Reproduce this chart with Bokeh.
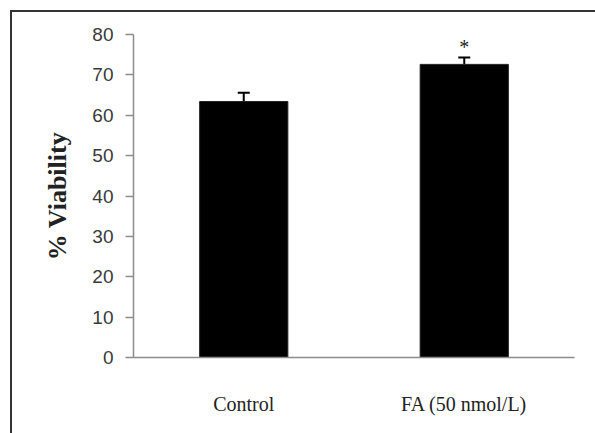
from bokeh.plotting import figure
from bokeh.models import ColumnDataSource, Range1d, Whisker, TeeHead, FactorRange
from bokeh.core.properties import value
from bokeh.embed import file_html
from bokeh.resources import INLINE

categories = ["Control", "FA (50 nmol/L)"]
viability = [63.4, 72.6]
errors = [2.2, 1.7]
significance = ["", "*"]
y_ticks = [0, 10, 20, 30, 40, 50, 60, 70, 80]

upper = [v + e for v, e in zip(viability, errors)]
star_y = [u + 2.5 for u in upper]

src = ColumnDataSource(data=dict(cat=categories, val=viability, upper=upper,
                                 star_y=star_y, sig=significance))

p = figure(x_range=FactorRange(*categories, range_padding=0), y_range=Range1d(0, 80),
           width=595, height=433, output_backend="svg", toolbar_location=None,
           min_border_left=133, min_border_right=21, min_border_top=34, min_border_bottom=76)

# outer frame (left and top edges) painted behind a transparent canvas
p.border_fill_color = None
p.background_fill_color = None
p.styles = {
    "background-color": "white",
    "background-image": "linear-gradient(#333333, #333333), linear-gradient(#333333, #333333)",
    "background-size": "2px 100%, 100% 2px",
    "background-position": "10px 10px, 10px 10px",
    "background-repeat": "no-repeat, no-repeat",
}

p.vbar(x="cat", top="val", width=0.4, source=src, fill_color="black", line_color="#222222")

w = Whisker(base="cat", upper="upper", lower="val", source=src,
            upper_head=TeeHead(size=12, line_color="black", line_width=2),
            lower_head=None, line_color="black", line_width=2)
p.add_layout(w)

p.text(x="cat", y="star_y", text="sig", source=src, text_align="center",
       text_baseline="middle", text_font=value("Liberation Serif"),
       text_font_size="20px", text_color="#222222")

p.xgrid.visible = False
p.ygrid.visible = False
p.outline_line_color = None

p.yaxis.ticker = y_ticks
p.yaxis.axis_line_color = "#8c8c8c"
p.yaxis.axis_line_width = 1.5
p.yaxis.major_tick_line_color = "#8c8c8c"
p.yaxis.major_tick_line_width = 1.5
p.yaxis.major_tick_in = 0
p.yaxis.major_tick_out = 8
p.yaxis.minor_tick_line_color = None
p.yaxis.major_label_text_font = "Liberation Sans"
p.yaxis.major_label_text_font_size = "19px"
p.yaxis.major_label_text_color = "#3a3a3a"
p.yaxis.major_label_standoff = 12
p.yaxis.axis_label = "% Viability"
p.yaxis.axis_label_text_font = "Liberation Serif"
p.yaxis.axis_label_text_font_style = "bold"
p.yaxis.axis_label_text_font_size = "26px"
p.yaxis.axis_label_text_color = "#222222"
p.yaxis.axis_label_standoff = 17

p.xaxis.axis_line_color = "#8c8c8c"
p.xaxis.axis_line_width = 1.5
p.xaxis.major_tick_line_color = None
p.xaxis.major_tick_in = 0
p.xaxis.major_tick_out = 0
p.xaxis.minor_tick_line_color = None
p.xaxis.major_label_text_font = "Liberation Serif"
p.xaxis.major_label_text_font_size = "20px"
p.xaxis.major_label_text_color = "#222222"
p.xaxis.major_label_standoff = 35

open("out.html", "w").write(file_html(p, INLINE))
